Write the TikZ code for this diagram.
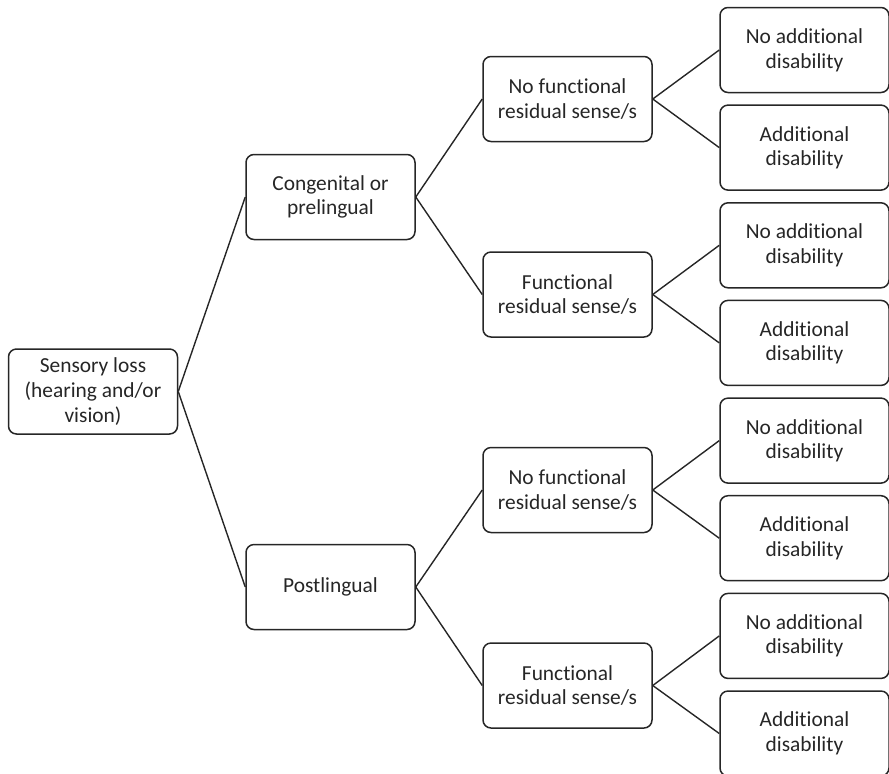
\documentclass[tikz,border=0pt]{standalone}
\usepackage{fontspec}
\setmainfont{Carlito}[Ligatures=NoCommon]
\usepackage{tikz}
\usetikzlibrary{positioning}

\begin{document}
\begin{tikzpicture}[
  x=0.5pt, y=-0.5pt,
  font=\fontsize{10.7}{12.3}\selectfont,
  every node/.style={align=center, text=black!85},
  box/.style={draw=black!85, line width=0.75pt, rectangle, rounded corners=4pt,
    minimum width=84.5pt, minimum height=42.5pt, inner sep=2pt},
  link/.style={draw=black!85, line width=0.7pt}
]
\useasboundingbox (0,0) rectangle (889,773);

% Level 0: root
\node[box] (root) at (93, 391.5) {Sensory loss\\(hearing and/or\\vision)};

% Level 1: onset
\node[box] (cong) at (330.5, 197) {Congenital or\\prelingual};
\node[box] (post) at (330.5, 587) {Postlingual};
\draw[link] (root.east) -- (cong.west);
\draw[link] (root.east) -- (post.west);

% Level 2: residual senses
\node[box] (nf1) at (567.5,  99) {No functional\\residual sense/s};
\node[box] (fu1) at (567.5, 294.5) {Functional\\residual sense/s};
\node[box] (nf2) at (567.5, 490) {No functional\\residual sense/s};
\node[box] (fu2) at (567.5, 685.5) {Functional\\residual sense/s};
\draw[link] (cong.east) -- (nf1.west);
\draw[link] (cong.east) -- (fu1.west);
\draw[link] (post.east) -- (nf2.west);
\draw[link] (post.east) -- (fu2.west);

% Level 3: additional disability
\foreach \grp/\i [evaluate=\i as \ya using 50+195.3*(\i-1)] in {nf1/1, fu1/2, nf2/3, fu2/4} {
  \node[box] (\grp-no) at (804.5, \ya) {No additional\\disability};
  \node[box] (\grp-add) at (804.5, \ya+97.6) {Additional\\disability};
  \draw[link] (\grp.east) -- (\grp-no.west);
  \draw[link] (\grp.east) -- (\grp-add.west);
}

\end{tikzpicture}
\end{document}
